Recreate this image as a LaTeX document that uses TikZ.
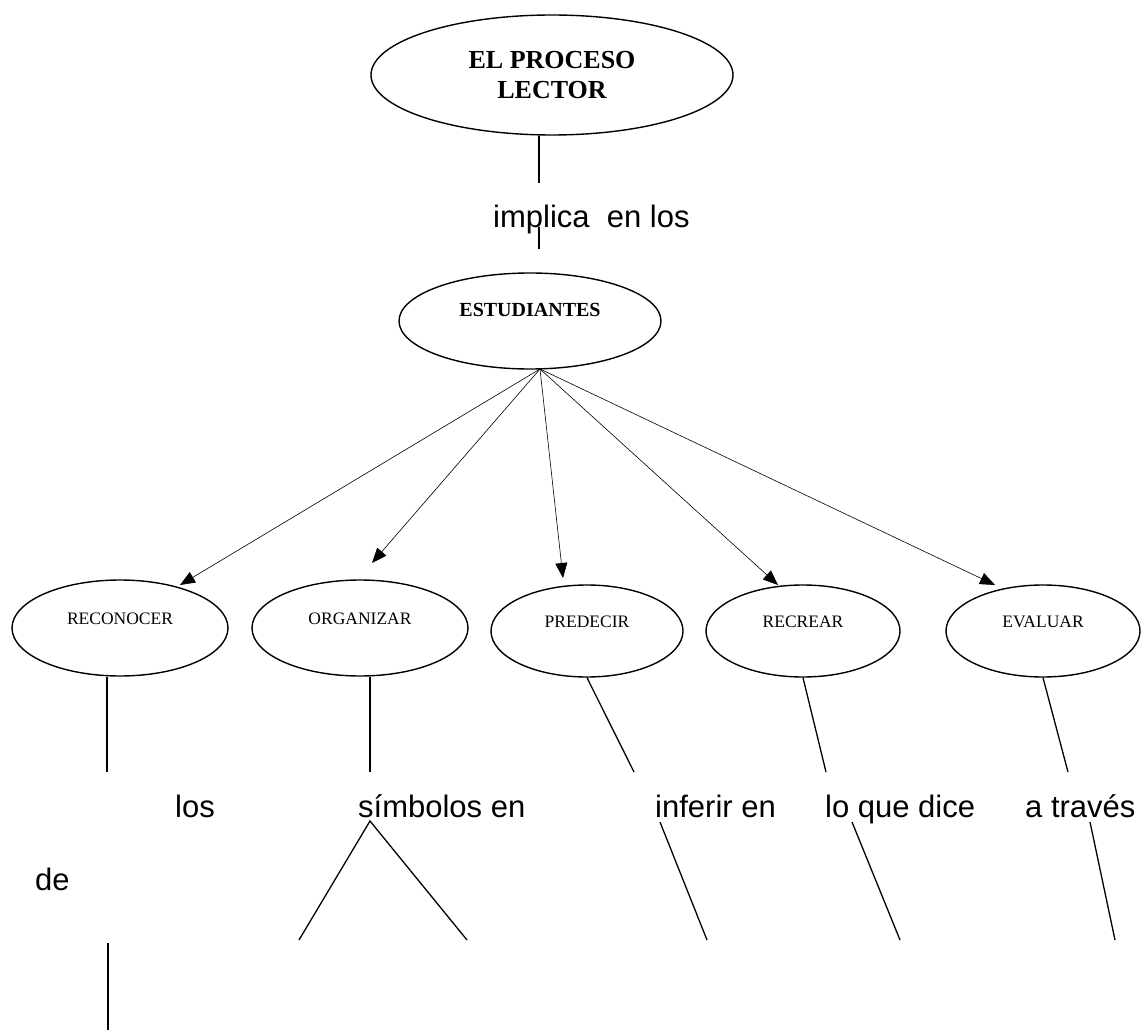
\documentclass[tikz,border=0pt]{standalone}
\usepackage{fontspec}
\setmainfont{Liberation Serif}
\newfontfamily\arialf{Liberation Sans}
\usetikzlibrary{shapes.geometric,arrows.meta}
\begin{document}
\begin{tikzpicture}[x=1pt,y=-1pt,
  oval/.style={draw, ellipse, line width=1.4pt, inner sep=0pt},
  smalloval/.style={oval, minimum width=194pt, minimum height=92pt,
     font=\fontsize{17.5}{20}\selectfont, text height=12pt, text depth=20pt},
  lab/.style={anchor=base west, inner sep=0pt, font=\arialf\fontsize{31}{36}\selectfont},
  conn/.style={line width=1.3pt},
  arr/.style={line width=0.6pt, -{Triangle[length=15pt,width=12pt]}}]
\useasboundingbox[fill=white] (0,0) rectangle (1141,1032);

% ellipses
\node[oval, minimum width=362pt, minimum height=120pt, align=center,
      font=\bfseries\fontsize{26}{30}\selectfont] (top) at (552,75) {EL PROCESO\\LECTOR};
\node[oval, minimum width=262pt, minimum height=96pt,
      font=\bfseries\fontsize{20}{24}\selectfont, text height=14pt, text depth=22pt] (est) at (530,321) {ESTUDIANTES};
\node[smalloval, minimum width=216pt, minimum height=96pt] (rec) at (120,628) {RECONOCER};
\node[smalloval, minimum width=216pt, minimum height=96pt] (org) at (360,628) {ORGANIZAR};
\node[smalloval, minimum width=192pt] (pre) at (587,631) {PREDECIR};
\node[smalloval] (recr) at (803,631) {RECREAR};
\node[smalloval] (eva) at (1043,631) {EVALUAR};

% labels
\node[lab] (imp) at (493,228) {implica\ \ en los};
\node[lab] (los) at (175,817) {los};
\node[lab] (simb) at (358,817) {símbolos en};
\node[lab] (inf) at (655,817) {inferir en};
\node[lab] (loq) at (825,817) {lo que dice};
\node[lab] (atr) at (1025,817) {a través};
\node[lab] (de) at (35,890) {de};

% coordinates for free ends
\coordinate (c1) at (539,183);
\coordinate (c2a) at (539,227);
\coordinate (c2b) at (539,249);
\coordinate (src) at (540,369);
\coordinate (tRec) at (180,585);
\coordinate (tOrg) at (372,563);
\coordinate (tPre) at (563,578);
\coordinate (tRecr) at (778,585);
\coordinate (tEva) at (995,585);
\coordinate (recEnd) at (107,772);
\coordinate (orgEnd) at (370,772);
\coordinate (preEnd) at (634,772);
\coordinate (recrEnd) at (826,772);
\coordinate (evaEnd) at (1068,772);
\coordinate (apex) at (370,821);
\coordinate (legL) at (299,940);
\coordinate (legR) at (467,940);
\coordinate (infA) at (660,822);
\coordinate (infB) at (707,940);
\coordinate (loqA) at (852,822);
\coordinate (loqB) at (900,940);
\coordinate (atrA) at (1090,822);
\coordinate (atrB) at (1115,940);
\coordinate (deA) at (108,943);
\coordinate (deB) at (108,1030);

% connectors
\draw[conn] (top.south -| c1) -- (c1);
\draw[conn] (c2a) -- (c2b);
\draw[arr] (src) -- (tRec);
\draw[arr] (src) -- (tOrg);
\draw[arr] (src) -- (tPre);
\draw[arr] (src) -- (tRecr);
\draw[arr] (src) -- (tEva);
\draw[conn] (rec.south -| recEnd) -- (recEnd);
\draw[conn] (org.south -| orgEnd) -- (orgEnd);
\draw[conn] (pre.south) -- (preEnd);
\draw[conn] (recr.south) -- (recrEnd);
\draw[conn] (eva.south) -- (evaEnd);
\draw[conn] (legL) -- (apex) -- (legR);
\draw[conn] (infA) -- (infB);
\draw[conn] (loqA) -- (loqB);
\draw[conn] (atrA) -- (atrB);
\draw[conn] (deA) -- (deB);
\end{tikzpicture}
\end{document}
